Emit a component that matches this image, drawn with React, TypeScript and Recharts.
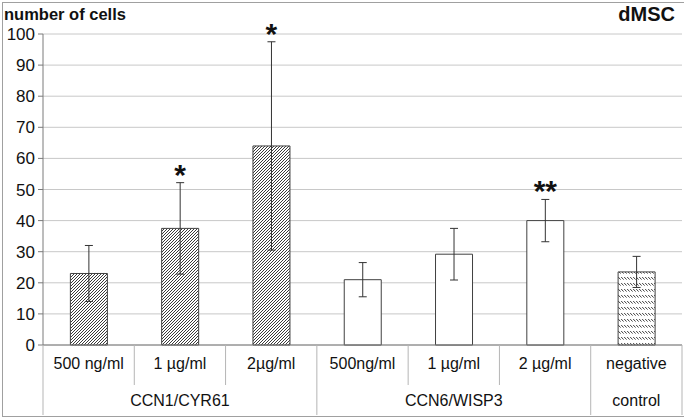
import * as React from "react"
import { BarChart, Bar, XAxis, YAxis, CartesianGrid, Cell, ErrorBar, LabelList } from "recharts"

// one entry per bar, left to right
const doseLabels = ["500 ng/ml", "1 µg/ml", "2µg/ml", "500ng/ml", "1 µg/ml", "2 µg/ml", "negative"]
const groupLabels = ["CCN1/CYR61", "CCN1/CYR61", "CCN1/CYR61", "CCN6/WISP3", "CCN6/WISP3", "CCN6/WISP3", "control"]
const means = [23, 37.5, 64, 21, 29.2, 40, 23.5]
const errors = [9, 14.7, 33.5, 5.5, 8.3, 6.8, 5]
const stars = ["", "*", "*", "", "", "**", ""]
const fills = ["url(#hatchFwd)", "url(#hatchFwd)", "url(#hatchFwd)", "#ffffff", "#ffffff", "#ffffff", "url(#hatchNeg)"]
const yTicks = [0, 10, 20, 30, 40, 50, 60, 70, 80, 90, 100]

const data = means.map((m, i) => ({ key: `c${i}`, mean: m, err: errors[i], sig: stars[i] }))

const FONT = "'Liberation Sans', Arial, sans-serif"
const SEP = "#b5b5b5"

function isGroupStart(i: number) {
  return i === 0 || groupLabels[i] !== groupLabels[i - 1]
}

function isGroupMiddle(i: number) {
  let start = i
  while (start > 0 && groupLabels[start - 1] === groupLabels[i]) start--
  let end = i
  while (end < groupLabels.length - 1 && groupLabels[end + 1] === groupLabels[i]) end++
  return i === Math.floor((start + end) / 2)
}

function CategoryTick(props: any) {
  const { x, y, payload, index } = props
  const half = payload && payload.offset ? payload.offset : 45.6
  const left = x - half
  const right = x + half
  const last = index === doseLabels.length - 1
  return (
    <g>
      <line x1={left} y1={y} x2={left} y2={isGroupStart(index) ? y + 70 : y + 40} stroke={SEP} />
      {last && <line x1={right} y1={y} x2={right} y2={y + 70} stroke={SEP} />}
      <text x={x} y={y + 24} textAnchor="middle" fontSize={16} fontFamily={FONT} fill="#111">
        {doseLabels[index]}
      </text>
      {isGroupMiddle(index) && (
        <text x={x} y={y + 61} textAnchor="middle" fontSize={16} fontFamily={FONT} fill="#111">
          {groupLabels[index]}
        </text>
      )}
    </g>
  )
}

function StarLabel(props: any) {
  const { x, y, width, height, index, value } = props
  if (!value) return null
  const perUnit = height / means[index]
  const top = y - errors[index] * perUnit
  return (
    <text x={x + width / 2} y={top + 2} textAnchor="middle" fontSize={30} fontWeight="bold" fontFamily={FONT} fill="#111">
      {value}
    </text>
  )
}

export default function App() {
  return (
    <div style={{ position: "absolute", left: 0, top: 0, width: 685, height: 418, background: "#fff", fontFamily: FONT }}>
      <div style={{ position: "absolute", left: 2, top: 2, width: 681, height: 413, borderTop: "1px solid #a0a0a0", borderLeft: "1px solid #a0a0a0", borderBottom: "1px solid #a0a0a0" }} />
      <div style={{ position: "absolute", left: 4, top: 5, fontSize: 16.5, fontWeight: "bold", color: "#111", whiteSpace: "nowrap" }}>number of cells</div>
      <div style={{ position: "absolute", right: 10, top: 3, fontSize: 20, fontWeight: "bold", color: "#111" }}>dMSC</div>
      <div style={{ position: "absolute", left: 0, top: 0 }}>
        <BarChart width={685} height={418} data={data} margin={{ top: 34, right: 3, bottom: 0, left: 0 }} barCategoryGap="30%">
          <defs>
            <pattern id="hatchFwd" patternUnits="userSpaceOnUse" width={3} height={3}>
              <rect width={3} height={3} fill="#ffffff" />
              <path d="M-1,1 l2,-2 M0,3 l3,-3 M2,4 l2,-2" stroke="#3a3a3a" strokeWidth={1} />
            </pattern>
            <pattern id="hatchNeg" patternUnits="userSpaceOnUse" width={3} height={6}>
              <rect width={3} height={6} fill="#ffffff" />
              <path d="M0.2,1 L2.6,3.6" stroke="#444" strokeWidth={1} />
            </pattern>
          </defs>
          <CartesianGrid vertical={false} stroke="#c8c8c8" />
          <XAxis
            dataKey="key"
            height={73}
            tickSize={0}
            tickMargin={0}
            tickLine={false}
            axisLine={{ stroke: "#7a7a7a" }}
            interval={0}
            tick={<CategoryTick />}
          />
          <YAxis
            domain={[0, 100]}
            ticks={yTicks}
            width={43}
            tickSize={5}
            tickMargin={3}
            axisLine={{ stroke: "#7a7a7a" }}
            tickLine={{ stroke: "#7a7a7a" }}
            tick={{ fontSize: 17, fill: "#111", fontFamily: FONT }}
          />
          <Bar dataKey="mean" stroke="#404040" strokeWidth={1} isAnimationActive={false}>
            {data.map((d, i) => (
              <Cell key={d.key} fill={fills[i]} />
            ))}
            <ErrorBar dataKey="err" width={4} stroke="#333" strokeWidth={1} direction="y" />
            <LabelList dataKey="sig" content={<StarLabel />} />
          </Bar>
        </BarChart>
      </div>
    </div>
  )
}
